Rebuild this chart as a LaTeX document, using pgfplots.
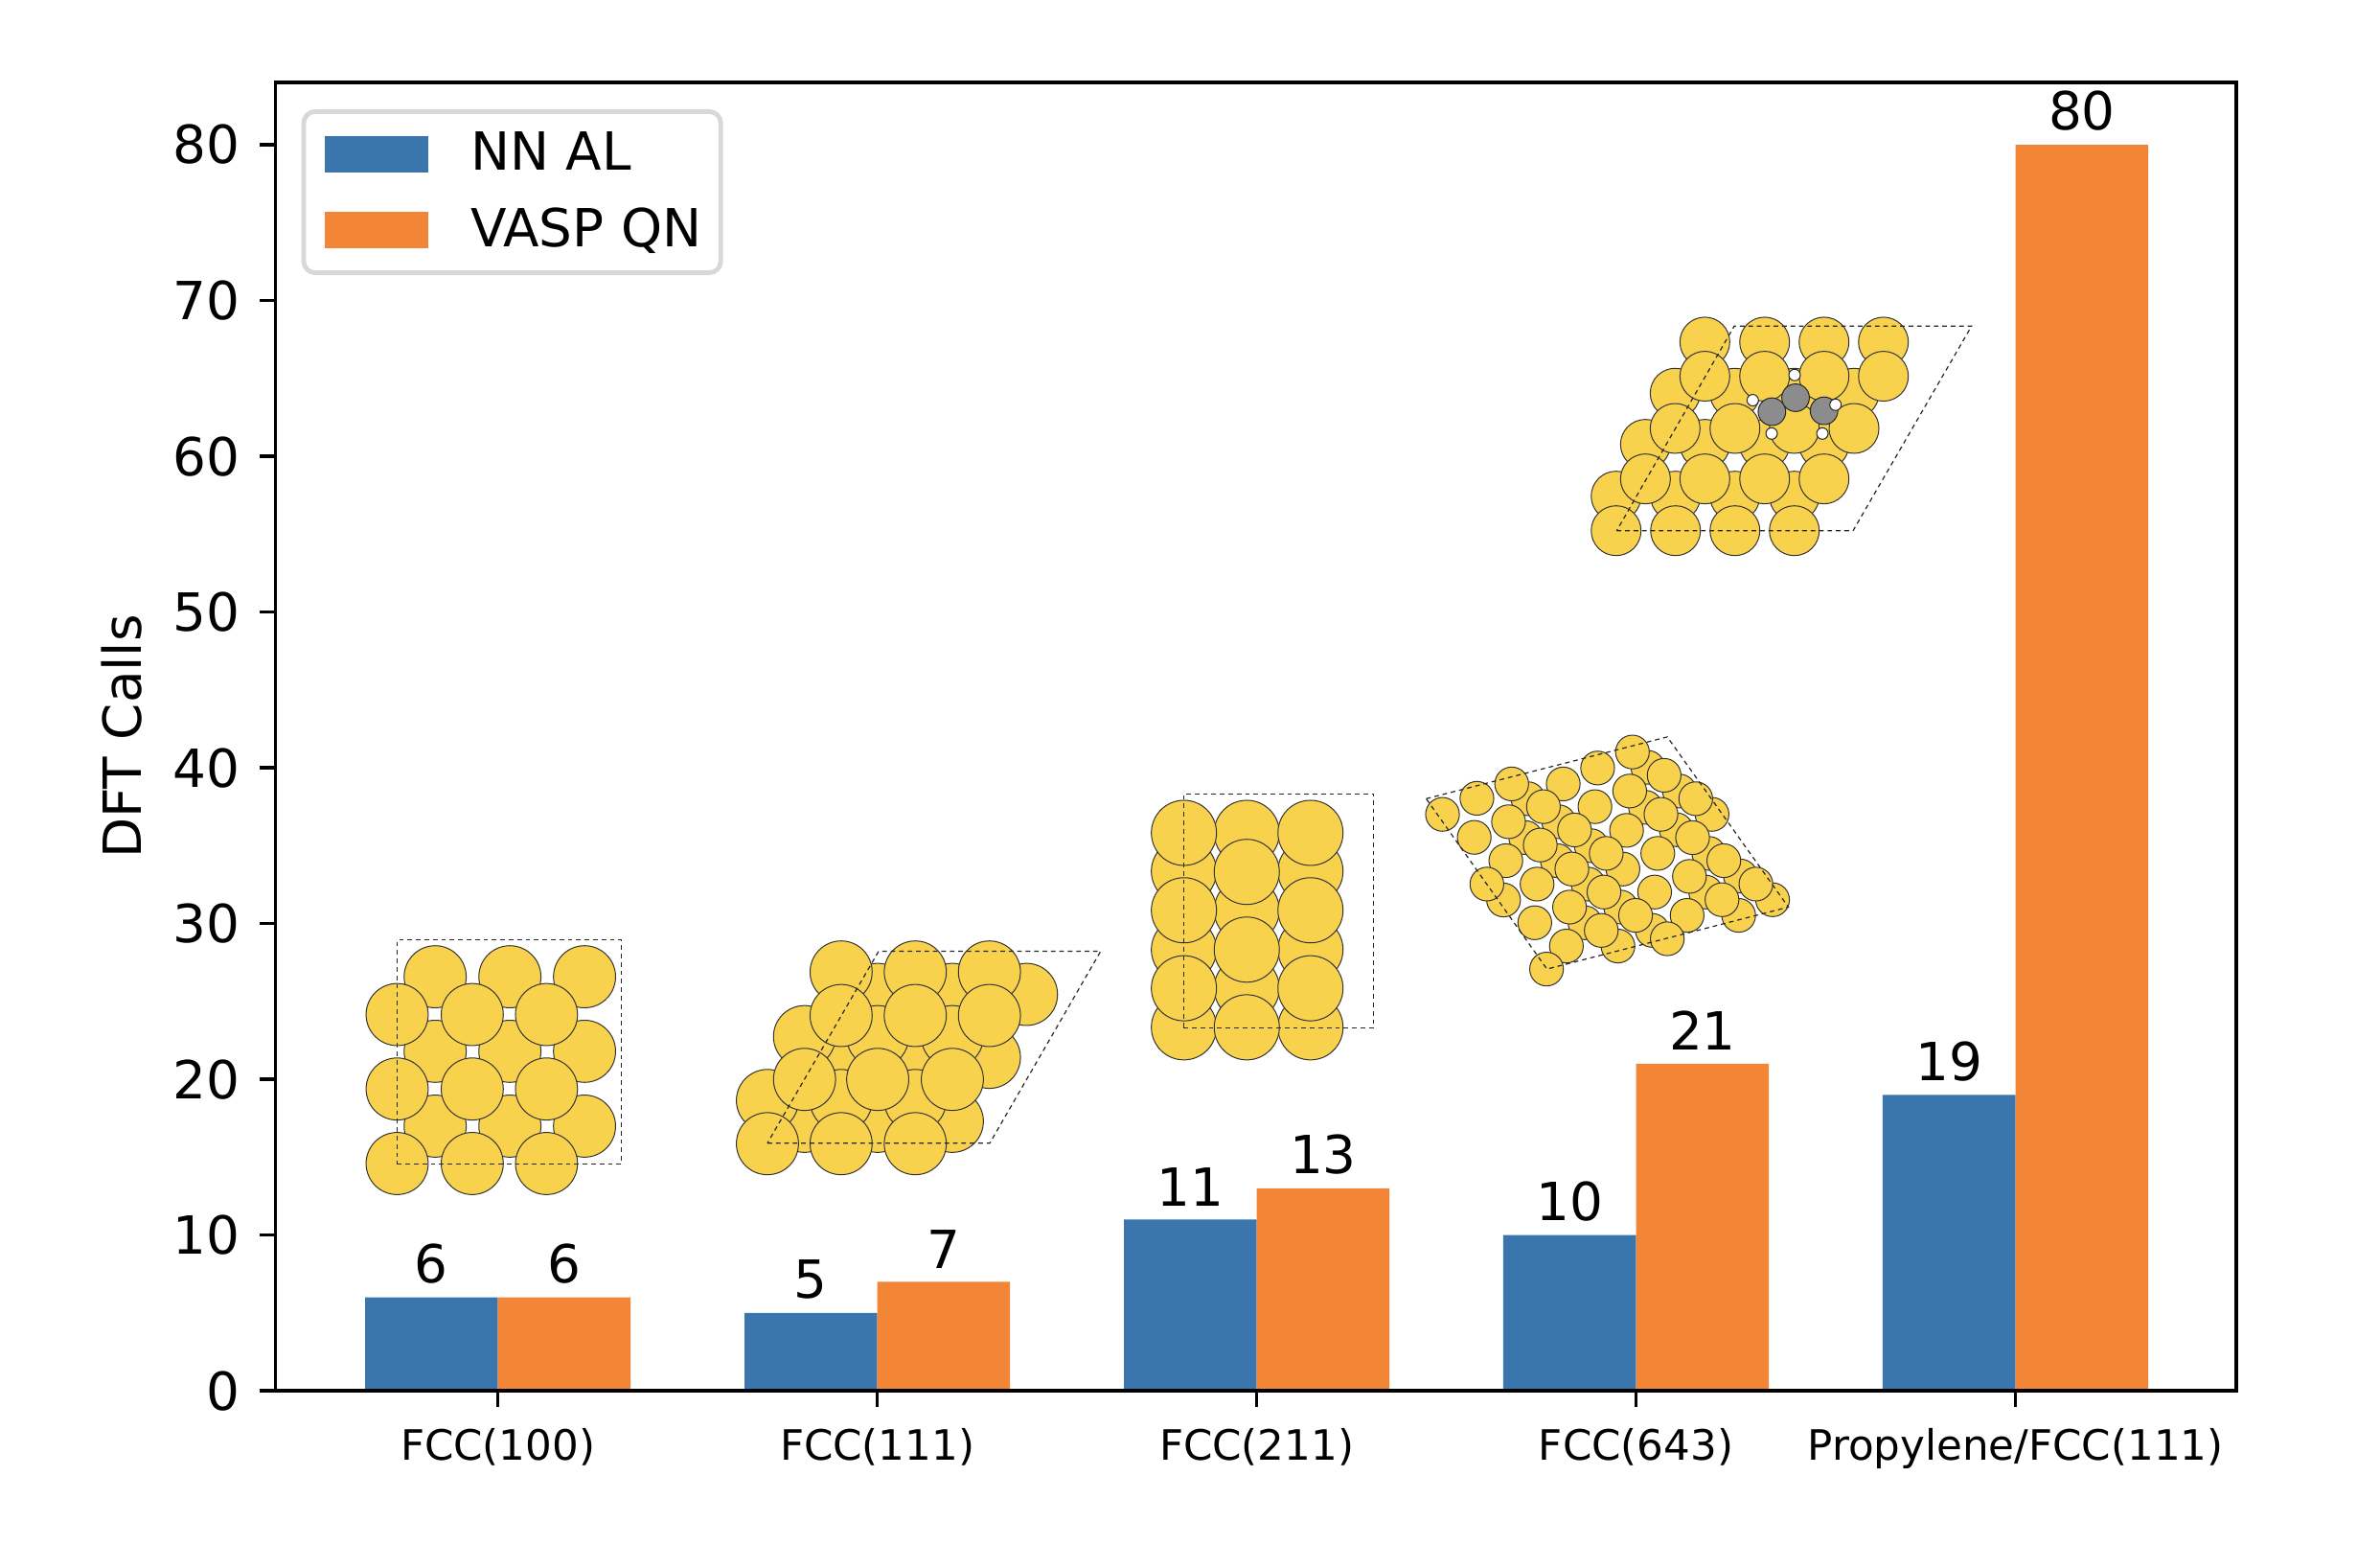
\documentclass[border=0pt]{standalone}
\usepackage{fontspec}
\setmainfont{DejaVu Sans}
\usepackage{pgfplots}
\usepackage{pgfplotstable}
\pgfplotsset{compat=1.18}
\definecolor{nnblue}{RGB}{58,117,174}
\definecolor{vasporange}{RGB}{242,134,54}
\definecolor{gold}{RGB}{248,209,77}
\definecolor{legframe}{RGB}{216,216,216}
\newcommand{\bigfont}{\fontsize{13.7}{16}\selectfont}
\newcommand{\smallfont}{\fontsize{10.9}{13}\selectfont}

\pgfplotstableread{
x nnal vaspqn
0 6 6
1 5 7
2 11 13
3 10 21
4 19 80
}\dftcalls

% atom positions below are in picture pixels (inset axes use pixel limits)
\pgfplotsset{
  atom/.style={only marks, mark=*, mark size=#1, mark options={fill=gold, draw=black!80, line width=0.25pt}},
  cell/.style={no markers, black!85, line width=0.3pt, dash pattern=on 1.2pt off 1pt},
  inset/.style={
    at={(0pt,0pt)},
    anchor=south west,
    scale only axis,
    width=511.6pt,
    height=341.3pt,
    xmin=287.5, xmax=2334,
    ymin=86, ymax=1450,
    y dir=reverse,
    hide axis,
    clip=false,
  },
}

\begin{document}
\begin{tikzpicture}
\useasboundingbox (-71.9pt,-40.2pt) rectangle ++(621pt,403pt);
\begin{axis}[
  at={(0pt,0pt)},
  anchor=south west,
  scale only axis,
  width=511.6pt,
  height=341.3pt,
  xmin=-0.586, xmax=4.582,
  ymin=0, ymax=84,
  ybar,
  bar width=0.35,
  xtick={0,1,2,3,4},
  xticklabels={FCC(100),FCC(111),FCC(211),FCC(643),Propylene/FCC(111)},
  ytick={0,10,20,30,40,50,60,70,80},
  xtick pos=bottom,
  ytick pos=left,
  tick align=outside,
  major tick length=4.2pt,
  tick style={black, line width=0.9pt},
  axis line style={line width=0.9pt},
  axis on top,
  /pgf/number format/assume math mode=true,
  xticklabel style={font=\smallfont, inner sep=0pt, yshift=-5.5pt},
  yticklabel style={font=\bigfont, inner sep=0pt, xshift=-5pt},
  ylabel={DFT Calls},
  every axis y label/.style={at={(axis description cs:-0.0784,0.5)}, rotate=90, anchor=center, font=\bigfont},
  nodes near coords,
  nodes near coords style={font=\bigfont, inner sep=0pt, anchor=south, yshift=3.4pt},
  legend cell align=left,
  legend style={
    at={(0.0132,0.9795)}, anchor=north west,
    draw=legframe, line width=1.2pt, rounded corners=3pt,
    font=\bigfont, fill=white,
    inner xsep=3pt, inner ysep=3.4pt,
    row sep=4.1pt,
    /tikz/every odd column/.append style={column sep=9pt},
  },
  legend image code/.code={\path (0pt,0pt); \fill[#1, sharp corners] (2.4pt,-4.75pt) rectangle (29.6pt,4.75pt);},
]
\addplot[fill=nnblue, draw=none, bar shift=-0.175] table[x=x, y=nnal] {\dftcalls};
\addlegendentry{NN AL}
\addplot[fill=vasporange, draw=none, bar shift=0.175] table[x=x, y=vaspqn] {\dftcalls};
\addlegendentry{VASP QN\rule[-6.4pt]{0pt}{0pt}}
\end{axis}

\begin{axis}[inset]
% FCC(100)
\addplot[atom=8.1pt] coordinates {
(454.1,1018.3)(532.1,1018.3)(610,1018.3)
(454.1,1096)(532.1,1096)(610,1096)
(454.1,1174)(532.1,1174)(610,1174)
};
\addplot[atom=8.1pt] coordinates {
(414.4,1057.7)(492.8,1057.7)(570.3,1057.7)
(414.4,1135.3)(492.8,1135.3)(570.3,1135.3)
(414.4,1213)(492.8,1213)(570.3,1213)
};

% FCC(111)
\addplot[atom=8.1pt] coordinates {
(839.6,1169)(916,1169)(993.9,1169)
(877.8,1102.3)(955.2,1102.3)(1032.6,1102.3)
(916,1036.7)(993.9,1036.7)(1071.3,1036.7)
};
\addplot[atom=8.1pt] coordinates {
(800.9,1147.3)(877.8,1147.3)(955.2,1147.3)
(839.6,1080.7)(916,1080.7)(993.9,1080.7)
(877.8,1013.3)(955.2,1013.3)(1032.6,1013.3)
};
\addplot[atom=8.1pt] coordinates {
(800.9,1192.3)(877.8,1192.3)(955.2,1192.3)
(839.6,1125.3)(916,1125.3)(993.9,1125.3)
(877.8,1058.7)(955.2,1058.7)(1032.6,1058.7)
};

% FCC(211)
\addplot[atom=8.5pt] coordinates {
(1235.6,908.3)(1235.6,990)(1235.6,1071)
(1301.2,868.3)(1301.2,949)(1301.2,1030.3)
(1367.7,908.3)(1367.7,990)(1367.7,1071)
};
\addplot[atom=8.5pt] coordinates {
(1235.6,868.3)(1235.6,949)(1235.6,1030.3)
(1301.2,909)(1301.2,990)(1301.2,1071)
(1367.7,868.3)(1367.7,949)(1367.7,1030.3)
};

% FCC(643)
\addplot[atom=4.4pt] coordinates {
(1719.8,800)(1752.8,824.7)(1786.8,849)(1717.4,841.7)(1594.7,832.7)
(1626.8,856.7)(1592.4,873.3)(1749.5,865)(1660.8,881.7)(1625.4,897.3)
(1693.8,906)(1783.5,889.7)(1816.5,913.3)(1569.2,938.3)(1850,938)
(1657.5,921.7)(1780.2,930)(1814.6,954.3)(1691.5,945.7)(1654.2,962)
(1724.5,970)(1688.6,986.3)
};
\addplot[atom=4.4pt] coordinates {
(1703.7,784)(1736.8,808.3)(1667.4,800.7)(1769.8,832.7)(1700.9,824.7)
(1733.5,849)(1664.6,841)(1631.5,817.3)(1577.7,817.3)(1610.8,841)
(1541.4,832.3)(1505.5,849)(1574.4,856.7)(1538.6,873)(1643.3,865.3)
(1697.6,865.7)(1766.5,873.3)(1607.5,881)(1730.2,889.7)(1676.4,889.7)
(1571.6,897.3)(1640.5,906)(1799.1,897.3)(1832.6,921.7)(1763.2,913.7)
(1551.8,921.7)(1604.2,921.7)(1674,930)(1726.9,930)(1797.2,938)
(1638.1,945.7)(1707,954.3)(1760.8,954.3)(1601.8,962)(1671.2,970)
(1740.1,978.7)(1634.8,986.3)(1614.1,1010.3)
};

% Propylene/FCC(111)
\addplot[atom=6.5pt] coordinates {
(1686.7,517.3)(1748.7,517.3)(1810.7,517.3)(1872.7,517.3)
(1717.3,463.3)(1779.3,463.3)(1841.7,463.3)(1903.7,463.3)
(1748.3,410)(1810.7,410)(1872.7,410)(1935,410)
(1779.3,356.7)(1841.7,356.7)(1903.7,356.7)(1965.7,356.7)
};
\addplot[atom=6.5pt] coordinates {
(1686.7,553.3)(1748.7,553.3)(1810.7,553.3)(1872.7,553.3)
(1717.3,499.3)(1779.3,499.3)(1841.7,499.3)(1903.7,499.3)
(1748.3,446.7)(1810.7,446.7)(1872.7,446.7)(1935,446.7)
(1779.3,392.3)(1841.7,392.3)(1903.7,392.3)(1965.7,392.3)
};
\addplot[only marks, mark=*, mark size=3.6pt, mark options={fill=black!45, draw=black!85, line width=0.25pt}] coordinates {
(1849.3,429.3)(1874,414.7)(1903.7,428.3)
};
\addplot[only marks, mark=*, mark size=1.5pt, mark options={fill=white, draw=black!85, line width=0.25pt}] coordinates {
(1829.3,417.3)(1873,391)(1915.7,422)(1849,452)(1902,452)
};
\end{axis}

% unit cell outlines go in their own axis, marks would cover them otherwise
\begin{axis}[inset]
\addplot[cell] coordinates {(414.4,1213.3)(648.7,1213.3)(648.7,980)(414.4,980)(414.4,1213.3)};
\addplot[cell] coordinates {(800.9,1191.7)(1033,1191.7)(1148.7,991.7)(917,991.7)(800.9,1191.7)};
\addplot[cell] coordinates {(1235.1,1071.3)(1433.8,1071.3)(1433.8,827.7)(1235.1,827.7)(1235.1,1071.3)};
\addplot[cell] coordinates {(1488.5,832.7)(1740.1,768.3)(1866.5,945.7)(1614.5,1010.3)(1488.5,832.7)};
\addplot[cell] coordinates {(1687.3,553.3)(1934,553.3)(2057.7,340)(1810,340)(1687.3,553.3)};
\end{axis}
\end{tikzpicture}
\end{document}
